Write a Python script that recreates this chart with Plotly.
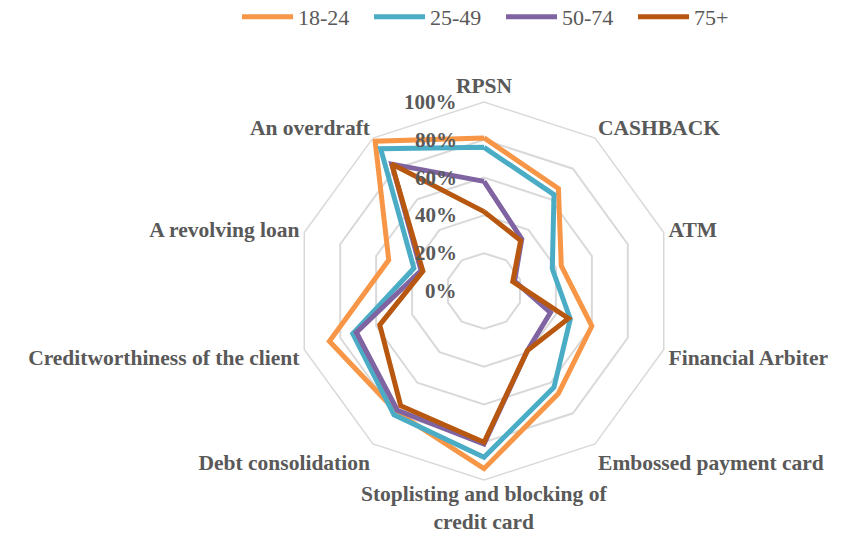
import plotly.graph_objects as go

categories = ["RPSN", "CASHBACK", "ATM", "Financial Arbiter", "Embossed payment card",
              "Stoplisting and blocking of credit card", "Debt consolidation",
              "Creditworthiness of the client", "A revolving loan", "An overdraft"]
category_labels = ["RPSN", "CASHBACK", "ATM", "Financial Arbiter", "Embossed payment card",
                   "", "Debt consolidation",
                   "Creditworthiness of the client", "A revolving loan", "An overdraft"]
bottom_label = "Stoplisting and blocking of<br>credit card"
series_names = ["18-24", "25-49", "50-74", "75+"]
v_18_24 = [81, 67, 43, 60, 67, 94, 79, 86, 53, 98]
v_25_49 = [76, 63, 38, 48, 63, 88, 81, 73, 39, 93]
v_50_74 = [58, 34, 17, 37, 39, 81, 78, 71, 35, 83]
v_75 = [42, 33, 16, 47, 39, 80, 75, 58, 34, 83]
series_values = [v_18_24, v_25_49, v_50_74, v_75]
colors = ["#F79646", "#4BACC6", "#8064A2", "#B8570F"]
tick_vals = [0, 20, 40, 60, 80, 100]
tick_text = ["0%", "20%", "40%", "60%", "80%", "100%"]

fig = go.Figure()
for name, vals, col in zip(series_names, series_values, colors):
    fig.add_trace(go.Scatterpolar(
        r=vals + vals[:1], theta=categories + categories[:1], mode="lines",
        name=name, line=dict(color=col, width=5), hoverinfo="skip"))

W, H = 841, 538
cx, cy, R = 484, 291, 189
rmax = 100
label_font = dict(size=21.5, family="Liberation Serif", color="#595959", weight="bold")

# radial tick labels as horizontal text to the left of the vertical axis
annotations = []
for v, t in zip(tick_vals, tick_text):
    ypx = cy - R * v / rmax
    annotations.append(dict(
        x=(cx - 25) / W, y=(H - ypx) / H, xref="paper", yref="paper",
        xanchor="right", yanchor="middle", text=t, showarrow=False,
        font=dict(size=21, family="Liberation Serif", color="#595959", weight="bold")))
# bottom category label (two lines) kept inside the page
annotations.append(dict(x=cx / W, y=2 / H, xref="paper", yref="paper",
                        xanchor="center", yanchor="bottom", text=bottom_label,
                        showarrow=False, font=label_font))

fig.update_layout(
    width=W, height=H, margin=dict(l=0, r=0, t=0, b=0, autoexpand=False),
    paper_bgcolor="white", plot_bgcolor="white",
    font=dict(family="Liberation Serif", color="#595959"),
    showlegend=True,
    legend=dict(orientation="h", x=237 / W, xanchor="left", y=1 + 4 / H, yanchor="top",
                font=dict(size=22, family="Liberation Serif", color="#595959"),
                itemwidth=51, entrywidth=66),
    annotations=annotations,
    polar=dict(
        domain=dict(x=[(cx - R) / W, (cx + R) / W], y=[(H - cy - R) / H, (H - cy + R) / H]),
        bgcolor="white",
        gridshape="linear",
        radialaxis=dict(range=[0, rmax], tickvals=tick_vals, showticklabels=False,
                        angle=90, showline=False, ticks="", gridcolor="#D9D9D9", gridwidth=1.5),
        angularaxis=dict(direction="clockwise", rotation=90, showgrid=False,
                         tickvals=categories, ticktext=category_labels,
                         showline=True, linecolor="#D9D9D9", linewidth=1.5, ticks="",
                         tickfont=label_font),
    ),
)
fig.write_html("out.html")
